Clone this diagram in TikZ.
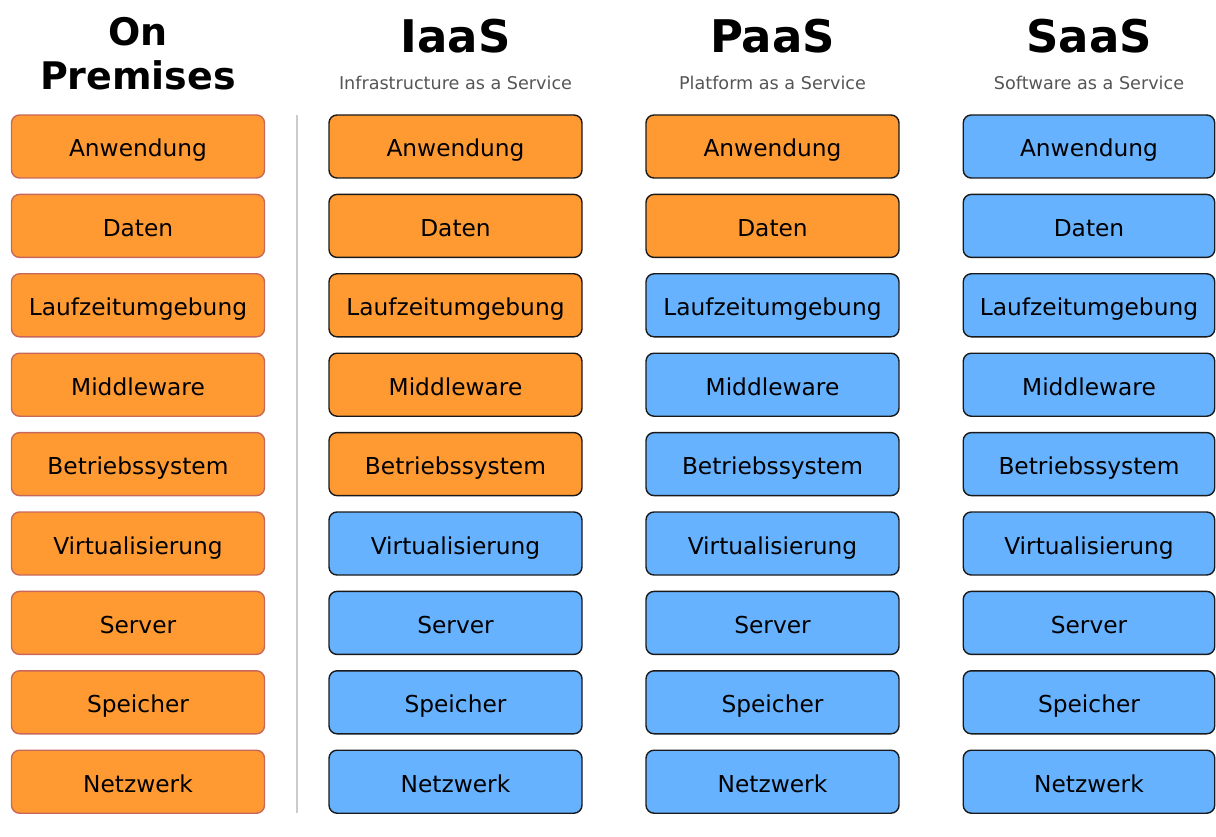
\documentclass[tikz,border=0pt]{standalone}
\usepackage{fontspec}
\setmainfont{DejaVu Sans}
\definecolor{orangefill}{HTML}{FF9A33}
\definecolor{bluefill}{HTML}{66B2FF}
\definecolor{redborder}{HTML}{C8685A}
\definecolor{darkborder}{HTML}{1A1A1A}
\definecolor{subgray}{HTML}{555555}
\definecolor{sepgray}{HTML}{CCCCCC}
\tikzset{
  layerbox/.style={rounded corners=8pt, line width=1.4pt, minimum width=253pt, minimum height=63pt,
    inner sep=0pt, text height=21pt, text depth=0pt, font=\fontsize{23.3}{26}\selectfont, text=black},
  onprem/.style={layerbox, fill=orangefill, draw=redborder},
  custbox/.style={layerbox, fill=orangefill, draw=darkborder},
  provbox/.style={layerbox, fill=bluefill, draw=darkborder},
  bigtitle/.style={font=\fontsize{45}{50}\selectfont\bfseries, inner sep=0pt},
  midtitle/.style={font=\fontsize{38}{43}\selectfont\bfseries, inner sep=0pt},
  subtitle/.style={font=\fontsize{17.6}{20}\selectfont, text=subgray, inner sep=0pt},
}
\begin{document}
\begin{tikzpicture}[x=1pt,y=-1pt]
\useasboundingbox (0,0) rectangle (1216,837);
% titles
\node[midtitle] (t1a) at (138,31.5) {On};
\node[midtitle] (t1b) at (138,75) {Premises};
\node[bigtitle] (t2) at (455.5,36.5) {IaaS};
\node[subtitle, anchor=base] (s2) at (455.5,90) {Infrastructure as a Service};
\node[bigtitle] (t3) at (772.5,36.5) {PaaS};
\node[subtitle, anchor=base] (s3) at (772.5,90) {Platform as a Service};
\node[bigtitle] (t4) at (1089,36.5) {SaaS};
\node[subtitle, anchor=base] (s4) at (1089,90) {Software as a Service};
% separator
\coordinate (sepTop) at (297,115);
\coordinate (sepBot) at (297,813);
\draw[sepgray, line width=2pt] (sepTop) -- (sepBot);
% boxes
\foreach \lbl [count=\r] in {Anwendung,Daten,Laufzeitumgebung,Middleware,Betriebssystem,Virtualisierung,Server,Speicher,Netzwerk}{
  \pgfmathsetmacro{\yy}{146.5+(\r-1)*79.4}
  \node[onprem] (b1-\r) at (138,\yy) {\lbl};
  \ifnum\r<6
    \node[custbox] (b2-\r) at (455.5,\yy) {\lbl};
  \else
    \node[provbox] (b2-\r) at (455.5,\yy) {\lbl};
  \fi
  \ifnum\r<3
    \node[custbox] (b3-\r) at (772.5,\yy) {\lbl};
  \else
    \node[provbox] (b3-\r) at (772.5,\yy) {\lbl};
  \fi
  \node[provbox, minimum width=251.5pt] (b4-\r) at (1089,\yy) {\lbl};
}
\end{tikzpicture}
\end{document}
